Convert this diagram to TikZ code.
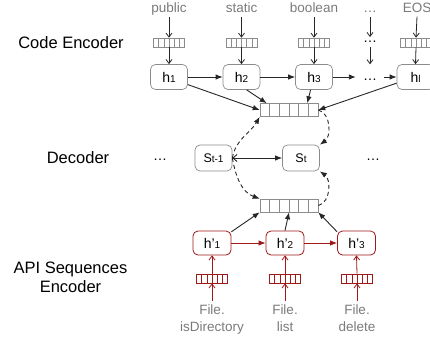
\documentclass[tikz,border=0pt]{standalone}
\usepackage{fontspec}
\setmainfont{Liberation Sans}
\usetikzlibrary{arrows.meta,calc}
\definecolor{boxgray}{HTML}{8C8C8C}
\definecolor{txtgray}{HTML}{7A7A7A}
\definecolor{apired}{HTML}{A01818}
\newcommand\lsub[1]{{\fontsize{10}{10}\selectfont #1}}
\begin{document}
\begin{tikzpicture}[x=1pt,y=-1pt,
 hbox/.style={draw=boxgray, line width=0.7pt, rounded corners=5pt, minimum width=37pt, minimum height=25pt, inner sep=0pt, font=\fontsize{14}{14}\selectfont, fill=white},
 sbox/.style={hbox, minimum height=26pt, font=\fontsize{12.5}{12.5}\selectfont},
 rbox/.style={hbox, draw=apired, line width=0.8pt, minimum width=38pt, minimum height=24pt},
 cells/.style={path picture={\foreach \i in {1,...,5}{\draw[#1, line width=0.6pt] ($(path picture bounding box.south west)!\i/6!(path picture bounding box.south east)$) -- ($(path picture bounding box.north west)!\i/6!(path picture bounding box.north east)$);}}},
 emb/.style={draw=boxgray, line width=0.6pt, minimum width=31pt, minimum height=9pt, inner sep=0pt, cells=boxgray},
 remb/.style={draw=apired, line width=0.7pt, minimum width=31pt, minimum height=9pt, inner sep=0pt, cells=apired},
 att/.style={draw=boxgray, line width=0.6pt, minimum width=58pt, minimum height=13pt, inner sep=0pt, cells=boxgray},
 word/.style={text=txtgray, font=\fontsize{13.5}{17}\selectfont, inner sep=1pt, text height=10pt, text depth=3pt},
 bword/.style={text=txtgray, font=\fontsize{13.5}{17}\selectfont, inner sep=1pt, align=center},
 lab/.style={font=\fontsize{16.5}{19}\selectfont, align=center},
 dotsn/.style={font=\fontsize{14}{14}\selectfont, inner sep=1pt},
 emba/.style={-{Straight Barb[length=4pt,width=6pt]}, line width=0.8pt, black!85},
 remba/.style={emba, apired},
 arr/.style={-{Latex[length=7pt,width=5.5pt]}, line width=0.9pt, black!85},
 rarr/.style={arr, apired},
 dsh/.style={arr, dash pattern=on 4pt off 3pt},
]
\useasboundingbox (0,0) rectangle (430,343);

% labels
\node[lab] (lce) at (71,43) {Code Encoder};
\node[lab] (ldec) at (78,158) {Decoder};
\node[lab] (lapi) at (70.5,277) {API Sequences\\Encoder};

% code encoder
\node[word, anchor=base] (w1) at (169,12.5) {public};
\node[word, anchor=base] (w2) at (241.5,12.5) {static};
\node[word, anchor=base] (w3) at (314,12.5) {boolean};
\node[word, anchor=base] (w4) at (370,12.5) {…};
\node[word, anchor=base] (w5) at (417,12.5) {EOS};

\node[emb] (e1) at (169,42.5) {};
\node[emb] (e2) at (241.5,42.5) {};
\node[emb] (e3) at (314,42.5) {};
\node[dotsn, inner sep=4pt] (d4) at (370,42) {…};
\node[emb] (e5) at (416,42.5) {};

\node[hbox] (h1) at (169,77) {h\lsub{1}};
\node[hbox] (h2) at (241.5,77) {h\lsub{2}};
\node[hbox] (h3) at (314,77) {h\lsub{3}};
\node[dotsn, minimum width=28pt, minimum height=25pt, inner sep=0pt, text height=6pt, text depth=0pt] (hd) at (370,77) {…};
\node[hbox] (hl) at (415.5,77) {h\lsub{l}};

\foreach \i in {1,2,3}{
  \draw[emba] (w\i.south) -- (e\i.north);
  \draw[emba] (e\i.south) -- (h\i.north);
}
\draw[emba] (w5.south) -- (e5.north);
\draw[emba] (e5.south) -- (hl.north);
\draw[emba] (w4.south) -- (d4.north);
\draw[emba] (d4.south) -- (hd.north);

\draw[arr] (h1.east) -- (h2.west);
\draw[arr] (h2.east) -- (h3.west);
\draw[arr] (h3.east) -- (hd.west);
\draw[arr] (hd.east) -- (hl.west);

% attention vectors
\node[att] (av1) at (289,110) {};
\node[att] (av2) at (289,205.5) {};

\draw[arr] (h1.-22) -- (av1.west);
\draw[arr] (h2.-68) -- ([xshift=7pt]av1.north west);
\draw[arr] (h3.-105) -- ([xshift=-11pt]av1.north east);
\draw[arr] (hl.198) -- (av1.east);

% decoder
\node[dotsn] (dl) at (160,160) {…};
\node[sbox] (s1) at (213.5,158) {S\lsub{t-1}};
\node[sbox] (s2) at (301,158) {S\lsub{t}};
\node[dotsn] (dr) at (373,160) {…};

\draw[{Straight Barb[length=4pt,width=7pt]}-{Latex[length=7pt,width=5.5pt]}, line width=0.9pt, black!85] (s1.east) -- (s2.west);

\draw[dsh] (s1.east) to[out=80,in=-120] (av1.south west);
\draw[dsh] (av1.east) to[out=-15,in=35] (s2.north east);
\draw[dsh] (s1.east) to[out=-80,in=160] (av2.north west);
\draw[dsh] (av2.east) to[out=15,in=-35] (s2.south east);

% API sequences encoder
\node[rbox] (p1) at (212,243) {h’\lsub{1}};
\node[rbox] (p2) at (285,243) {h’\lsub{2}};
\node[rbox] (p3) at (356.5,243) {h’\lsub{3}};

\node[remb] (r1) at (212,278.5) {};
\node[remb] (r2) at (285,278.5) {};
\node[remb] (r3) at (357,278.5) {};

\node[bword, anchor=north] (a1) at (212,304) {File.\\isDirectory};
\node[bword, anchor=north] (a2) at (285,304) {File.\\list};
\node[bword, anchor=north] (a3) at (357,304) {File.\\delete};

\foreach \i in {1,2,3}{
  \draw[remba] ([yshift=3pt]a\i.north) -- (r\i.south);
  \draw[remba] (r\i.north) -- (p\i.south);
}
\draw[rarr] (p1.east) -- (p2.west);
\draw[rarr] (p2.east) -- (p3.west);

\draw[arr] (p1.30) -- (av2.south west);
\draw[arr] (p2.north) -- (av2.south);
\draw[arr] (p3.150) -- (av2.south east);
\end{tikzpicture}
\end{document}
